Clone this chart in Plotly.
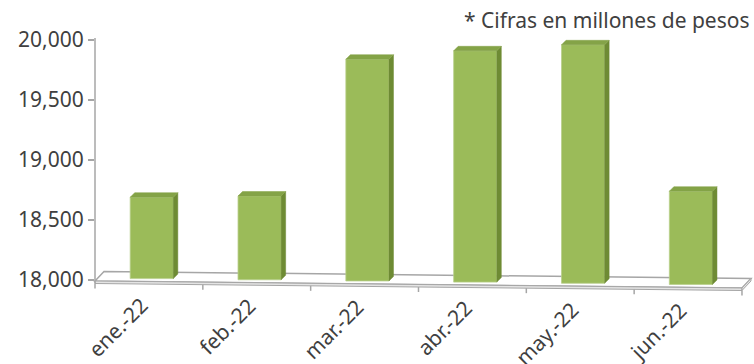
import plotly.graph_objects as go

# ---- data -------------------------------------------------------------
months = ["ene.-22", "feb.-22", "mar.-22", "abr.-22", "may.-22", "jun.-22"]
amounts = [18690, 18700, 19840, 19910, 19960, 18740]
y_tick_values = [18000, 18500, 19000, 19500, 20000]
y_tick_labels = ["18,000", "18,500", "19,000", "19,500", "20,000"]
note_text = "* Cifras en millones de pesos"

# ---- geometry (pixels of the 754x364 canvas) --------------------------
W, H = 754, 364
L, R, T, B = 95, 754, 30, 296          # plot-area box
PX_PER_CAT = 107.83                    # horizontal pixels per category
PX_PER_UNIT = 60 / 500                 # vertical pixels per peso-million
Y_BASE = 18000
BASE_PX = 280                          # pixel row of the 18,000 tick

X0 = -0.5
X1 = X0 + (R - L) / PX_PER_CAT
Y0 = Y_BASE - (B - BASE_PX) / PX_PER_UNIT
Y1 = Y0 + (B - T) / PX_PER_UNIT

kx = 1 / PX_PER_CAT    # category units per pixel
ky = 1 / PX_PER_UNIT   # value units per pixel

n = len(months)
x_left, x_right = -0.5, n - 0.5

FLOOR_DEPTH = (9.0, 9.5)   # px to the right / up from front to back edge
FLOOR_SLOPE = 7.0          # px the front edge drops from left to right
FLOOR_THICK = 2.5          # px thickness of the floor slab
BAR_OFFSET = 3.0           # px the bar front sits behind the floor front
BAR_DEPTH = 4.5            # px depth of each bar
BAR_WIDTH = 0.40           # category units

FRONT = "#9BBB59"
SIDE = "#6E8B34"
TOP = "#84A347"
GRID = "#A6A6A6"
TEXT = "#404040"
FONT = "Noto Sans"


def floor_front(x):
    """Value on the front edge of the floor at category position x."""
    return Y_BASE - ky * (1 + (x - x_left) / (x_right - x_left) * FLOOR_SLOPE)


def px(x):
    """Category position -> paper x."""
    return (x - X0) / (X1 - X0)


def py(y):
    """Value -> paper y."""
    return (y - Y0) / (Y1 - Y0)


def path(points):
    return "M " + " L ".join(f"{a:.5f},{b:.3f}" for a, b in points) + " Z"


dxf, dyf = FLOOR_DEPTH[0] * kx, FLOOR_DEPTH[1] * ky
fl, fr = floor_front(x_left), floor_front(x_right)

shapes = []
# floor slab: top surface
shapes.append(dict(
    type="path", xref="paper", yref="y", layer="below",
    path=path([(px(x_left), fl), (px(x_right), fr),
               (px(x_right + dxf), fr + dyf), (px(x_left + dxf), fl + dyf)]),
    fillcolor="#FFFFFF", line=dict(color=GRID, width=1.5)))
# floor slab: front edge
shapes.append(dict(
    type="path", xref="paper", yref="y", layer="below",
    path=path([(px(x_left), fl), (px(x_right), fr),
               (px(x_right), fr - FLOOR_THICK * ky), (px(x_left), fl - FLOOR_THICK * ky)]),
    fillcolor="#E4E4E4", line=dict(color=GRID, width=1)))
# floor slab: right edge
shapes.append(dict(
    type="path", xref="paper", yref="y", layer="below",
    path=path([(px(x_right), fr), (px(x_right + dxf), fr + dyf),
               (px(x_right + dxf), fr + dyf - FLOOR_THICK * ky), (px(x_right), fr - FLOOR_THICK * ky)]),
    fillcolor="#E4E4E4", line=dict(color=GRID, width=1)))
# category boundary ticks hanging below the floor
for i in range(n + 1):
    b = x_left + i
    top_y = floor_front(b) - FLOOR_THICK * ky
    shapes.append(dict(type="line", xref="paper", yref="y", layer="below",
                       x0=px(b), x1=px(b), y0=top_y, y1=top_y - 5 * ky,
                       line=dict(color=GRID, width=1.5)))
# vertical value axis line
shapes.append(dict(type="line", xref="paper", yref="y", layer="below",
                   x0=0, x1=0, y0=fl - FLOOR_THICK * ky, y1=y_tick_values[-1] + 2 * ky,
                   line=dict(color=GRID, width=1.5)))

# ---- bars -------------------------------------------------------------
shift_x = BAR_OFFSET * FLOOR_DEPTH[0] / FLOOR_DEPTH[1] * kx
shift_y = BAR_OFFSET * ky
bar_x = [i + shift_x for i in range(n)]
bar_base = [floor_front(x) + shift_y for x in bar_x]
bar_len = [v - b for v, b in zip(amounts, bar_base)]

bdx, bdy = BAR_DEPTH * kx, BAR_DEPTH * ky
side_x, side_y, top_x, top_y = [], [], [], []
for x, b, v in zip(bar_x, bar_base, amounts):
    xl, xr = x - BAR_WIDTH / 2, x + BAR_WIDTH / 2
    side_x += [xr, xr + bdx, xr + bdx, xr, xr, None]
    side_y += [b, b + bdy, v + bdy, v, b, None]
    top_x += [xl, xr, xr + bdx, xl + bdx, xl, None]
    top_y += [v, v, v + bdy, v + bdy, v, None]

fig = go.Figure()
fig.add_trace(go.Bar(
    x=bar_x, y=bar_len, base=bar_base, width=BAR_WIDTH,
    marker=dict(color=FRONT, line=dict(color="#B9CF8C", width=0.8)),
    hovertext=[f"{m}: {v:,}" for m, v in zip(months, amounts)], hoverinfo="text"))
fig.add_trace(go.Scatter(
    x=side_x, y=side_y, mode="lines", fill="toself", fillcolor=SIDE,
    line=dict(color=SIDE, width=0.5), hoverinfo="skip"))
fig.add_trace(go.Scatter(
    x=top_x, y=top_y, mode="lines", fill="toself", fillcolor=TOP,
    line=dict(color=TOP, width=0.5), hoverinfo="skip"))

# slanted month labels hanging from the sloping floor edge
annotations = []
for i, m in enumerate(months):
    annotations.append(dict(
        text=m, x=px(i + 6 * kx), y=py(floor_front(i) - 8 * ky),
        xref="paper", yref="paper",
        xanchor="right", yanchor="top", textangle=-45, showarrow=False,
        borderpad=0, font=dict(family=FONT, size=21, color=TEXT)))
annotations.append(dict(
    text=note_text, xref="paper", yref="paper",
    x=1, xanchor="right", xshift=-2,
    y=(B - 20) / (B - T), yanchor="middle", showarrow=False,
    font=dict(family=FONT, size=21, color=TEXT)))

fig.update_layout(
    width=W, height=H, showlegend=False,
    margin=dict(l=L, r=W - R, t=T, b=H - B, pad=0, autoexpand=False),
    paper_bgcolor="white", plot_bgcolor="white",
    font=dict(family=FONT, color=TEXT),
    shapes=shapes, annotations=annotations,
    xaxis=dict(range=[X0, X1], showticklabels=False, ticks="",
               showgrid=False, zeroline=False, showline=False,
               automargin=False, fixedrange=True),
    yaxis=dict(range=[Y0, Y1], tickvals=y_tick_values, ticktext=y_tick_labels,
               showgrid=False, zeroline=False, showline=False,
               automargin=False,
               ticks="outside", ticklen=6, tickwidth=1.5, tickcolor=GRID,
               tickfont=dict(family=FONT, size=21, color=TEXT), fixedrange=True),
)

fig.write_html("out.html", config={"displayModeBar": False})
